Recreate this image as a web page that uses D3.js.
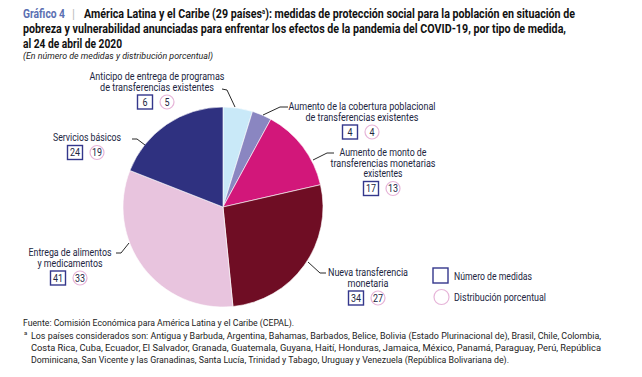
<!DOCTYPE html>
<html>
<head>
<meta charset="utf-8">
<script src="https://cdn.jsdelivr.net/npm/d3@7/dist/d3.min.js"></script>
<style>
  body { margin: 0; background: #fff; }
  svg { display: block; font-family: Roboto, "DejaVu Sans", sans-serif; }
</style>
</head>
<body>
<svg id="chart" width="642" height="377"></svg>
<script>
// measure types, clockwise from 12 o'clock
const categories = [
  "Anticipo de entrega de programas|de transferencias existentes",
  "Aumento de la cobertura poblacional|de transferencias existentes",
  "Aumento de monto de|transferencias monetarias|existentes",
  "Nueva transferencia|monetaria",
  "Entrega de alimentos|y medicamentos",
  "Servicios básicos"
];
const measures = [6, 4, 17, 34, 41, 24];
const percents = [5, 4, 13, 27, 33, 19];
const sliceColors = ["#c9e9f8", "#8a86c1", "#d2177a", "#6f0d24", "#e8c4de", "#2f3180"];

const svg = d3.select("#chart");
const navy = "#34378c";
const pinkRing = "#e6b4d8";
const labelColor = "#22263f";

// squeeze text to the condensed width seen in the original
function fit(sel, w) {
  return sel.attr("textLength", w).attr("lengthAdjust", "spacingAndGlyphs");
}

// title
const title = svg.append("g").attr("font-weight", "bold").attr("font-size", 12).attr("fill", "#111");
fit(title.append("text").attr("x", 23).attr("y", 18).attr("fill", "#5b6fb2").text("Gráfico 4"), 42);
title.append("text").attr("x", 72).attr("y", 18).attr("fill", "#bbb").attr("font-weight", "normal").text("|");
const t1 = title.append("text").attr("x", 84).attr("y", 18);
t1.append("tspan").text("América Latina y el Caribe (29 países");
t1.append("tspan").attr("font-size", 6.5).attr("dy", -4).text("a");
t1.append("tspan").attr("dy", 4).text("): medidas de protección social para la población en situación de");
fit(t1, 491);
fit(title.append("text").attr("x", 23).attr("y", 33).text("pobreza y vulnerabilidad anunciadas para enfrentar los efectos de la pandemia del COVID-19, por tipo de medida,"), 543);
fit(title.append("text").attr("x", 23).attr("y", 48).text("al 24 de abril de 2020"), 99);
fit(svg.append("text").attr("x", 23).attr("y", 59).attr("font-size", 9).attr("font-style", "italic").attr("fill", "#222")
  .text("(En número de medidas y distribución porcentual)"), 190);

// pie
const cx = 223, cy = 207, radius = 100;
const pie = d3.pie().sort(null).value(d => d)(measures);
const arc = d3.arc().innerRadius(0).outerRadius(radius);
const g = svg.append("g").attr("transform", `translate(${cx},${cy})`);
g.selectAll("path").data(pie).join("path")
  .attr("d", arc)
  .attr("fill", (d, i) => sliceColors[i])
  .attr("stroke", "#fff").attr("stroke-width", 0.6);

// label layout: text centre, leader polyline, widths of each line
const labelPos = [
  { x: 157, y: 80, w: [135, 114], pts: [[222, 89], [227, 90], [235, 107]] },
  { x: 362, y: 110, w: [147, 113], pts: [[263, 115], [280, 107], [288, 107]] },
  { x: 383, y: 156, w: [87, 105, 39], pts: [[313, 160], [327, 153], [334, 153]] },
  { x: 368, y: 276, w: [80, 41], pts: [[308, 262], [320, 273], [326, 273]] },
  { x: 70, y: 256, w: [83, 65], pts: [[129, 243], [121, 253], [116, 253]] },
  { x: 87, y: 141, w: [68], pts: [[145, 145], [137, 139], [132, 139]] }
];
const lineH = 10.5;

categories.forEach((c, i) => {
  const p = labelPos[i];
  const lines = c.split("|");
  svg.append("path")
    .attr("d", d3.line()(p.pts))
    .attr("fill", "none").attr("stroke", "#111").attr("stroke-width", 0.9);
  lines.forEach((l, j) => {
    fit(svg.append("text").attr("text-anchor", "middle").attr("font-size", 10).attr("fill", labelColor)
      .attr("x", p.x).attr("y", p.y + j * lineH).text(l), p.w[j]);
  });
  const by = p.y + (lines.length - 1) * lineH + 4.5;
  const bx = p.x - 12;
  svg.append("rect").attr("x", bx - 7.5).attr("y", by).attr("width", 15).attr("height", 14)
    .attr("fill", "none").attr("stroke", navy).attr("stroke-width", 1.4);
  svg.append("text").attr("x", bx).attr("y", by + 11).attr("text-anchor", "middle")
    .attr("font-size", 10.5).attr("fill", labelColor).attr("transform", `translate(${bx},0) scale(0.85,1) translate(${-bx},0)`).text(measures[i]);
  svg.append("circle").attr("cx", bx + 22).attr("cy", by + 7).attr("r", 7)
    .attr("fill", "none").attr("stroke", pinkRing).attr("stroke-width", 1.2);
  svg.append("text").attr("x", bx + 22).attr("y", by + 11).attr("text-anchor", "middle")
    .attr("font-size", 10.5).attr("fill", labelColor).attr("transform", `translate(${bx + 22},0) scale(0.85,1) translate(${-(bx + 22)},0)`).text(percents[i]);
});

// legend
const legend = svg.append("g").attr("transform", "translate(433, 268)");
legend.append("rect").attr("width", 15).attr("height", 15).attr("fill", "none").attr("stroke", navy).attr("stroke-width", 1.4);
fit(legend.append("text").attr("x", 21).attr("y", 11.5).attr("font-size", 10.5).attr("fill", labelColor).text("Número de medidas"), 78);
legend.append("circle").attr("cx", 8.5).attr("cy", 29).attr("r", 7.5).attr("fill", "none").attr("stroke", pinkRing).attr("stroke-width", 1.2);
fit(legend.append("text").attr("x", 21).attr("y", 32.5).attr("font-size", 10.5).attr("fill", labelColor).text("Distribución porcentual"), 92);

// footer
const foot = svg.append("g").attr("font-size", 9.3).attr("fill", "#222");
fit(foot.append("text").attr("x", 23).attr("y", 326).text("Fuente: Comisión Económica para América Latina y el Caribe (CEPAL)."), 271);
foot.append("text").attr("x", 24).attr("y", 335).attr("font-size", 6).text("a");
const noteLines = [
  "Los países considerados son: Antigua y Barbuda, Argentina, Bahamas, Barbados, Belice, Bolivia (Estado Plurinacional de), Brasil, Chile, Colombia,",
  "Costa Rica, Cuba, Ecuador, El Salvador, Granada, Guatemala, Guyana, Haití, Honduras, Jamaica, México, Panamá, Paraguay, Perú, República",
  "Dominicana, San Vicente y las Granadinas, Santa Lucía, Trinidad y Tabago, Uruguay y Venezuela (República Bolivariana de)."
];
const noteW = [570, 570, 478];
noteLines.forEach((l, i) => {
  fit(foot.append("text").attr("x", 31).attr("y", 339 + i * 12).text(l), noteW[i]);
});
</script>
</body>
</html>
